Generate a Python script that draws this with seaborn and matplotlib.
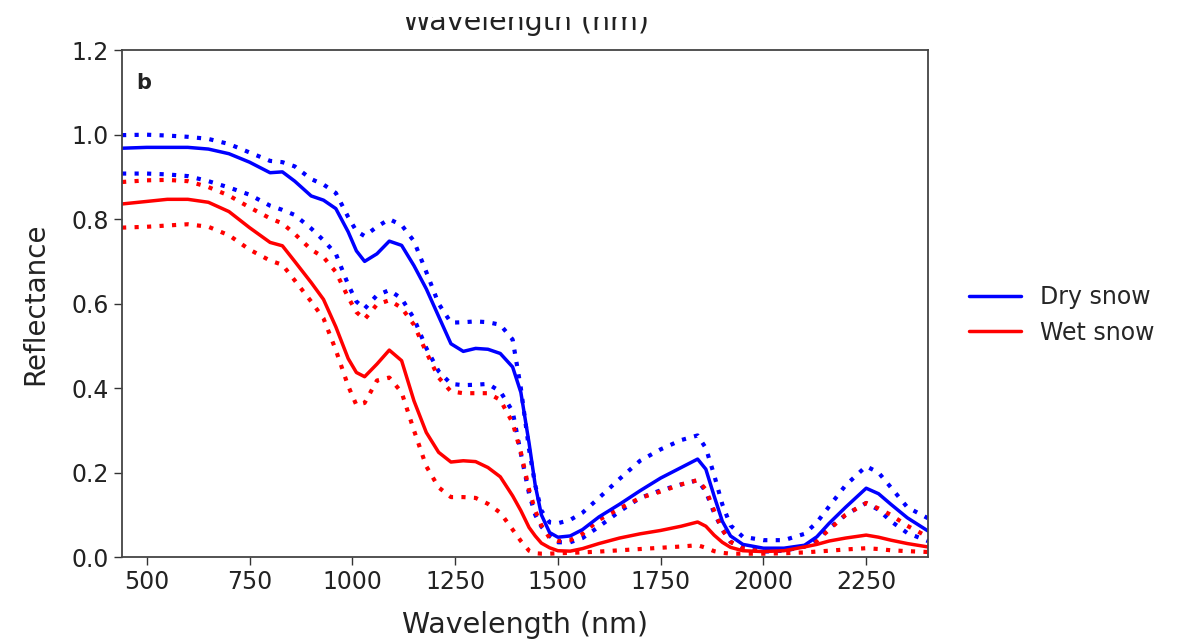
import matplotlib
matplotlib.use('Agg')
import matplotlib.pyplot as plt
import seaborn as sns
import pandas as pd
from matplotlib.patches import Rectangle

# wavelength grid (nm)
wavelength = [440, 500, 550, 600, 650, 700, 750, 800, 830, 860, 900, 930, 960, 990,
              1010, 1030, 1060, 1090, 1120, 1150, 1180, 1210, 1240, 1270, 1300, 1330,
              1360, 1390, 1410, 1430, 1445, 1460, 1480, 1500, 1530, 1560, 1600, 1650,
              1700, 1750, 1800, 1840, 1860, 1880, 1900, 1920, 1950, 2000, 2050, 2100,
              2130, 2160, 2200, 2250, 2280, 2310, 2350, 2400]

dry_mean = [0.968, 0.970, 0.970, 0.970, 0.966, 0.955, 0.935, 0.910, 0.912, 0.890, 0.855,
            0.845, 0.825, 0.770, 0.725, 0.700, 0.718, 0.748, 0.738, 0.690, 0.635, 0.570,
            0.505, 0.487, 0.494, 0.492, 0.482, 0.450, 0.390, 0.270, 0.170, 0.100, 0.058,
            0.047, 0.050, 0.065, 0.095, 0.125, 0.157, 0.187, 0.212, 0.232, 0.208, 0.145,
            0.085, 0.050, 0.030, 0.021, 0.021, 0.028, 0.048, 0.080, 0.118, 0.163, 0.150,
            0.125, 0.093, 0.062]
dry_upper = [0.999, 1.000, 0.998, 0.995, 0.990, 0.978, 0.958, 0.938, 0.935, 0.925, 0.895,
             0.882, 0.862, 0.805, 0.772, 0.760, 0.782, 0.800, 0.786, 0.748, 0.675, 0.600,
             0.555, 0.556, 0.558, 0.556, 0.550, 0.515, 0.400, 0.255, 0.170, 0.110, 0.082,
             0.080, 0.088, 0.105, 0.140, 0.185, 0.228, 0.255, 0.277, 0.288, 0.258, 0.195,
             0.125, 0.075, 0.048, 0.040, 0.040, 0.055, 0.082, 0.120, 0.170, 0.215, 0.200,
             0.165, 0.118, 0.092]
dry_lower = [0.908, 0.908, 0.906, 0.902, 0.890, 0.875, 0.858, 0.832, 0.822, 0.810, 0.778,
             0.750, 0.718, 0.645, 0.605, 0.588, 0.620, 0.632, 0.612, 0.565, 0.495, 0.440,
             0.410, 0.407, 0.408, 0.410, 0.392, 0.345, 0.245, 0.150, 0.100, 0.072, 0.050,
             0.035, 0.035, 0.045, 0.072, 0.108, 0.140, 0.158, 0.172, 0.182, 0.155, 0.105,
             0.065, 0.036, 0.020, 0.013, 0.015, 0.025, 0.042, 0.068, 0.100, 0.128, 0.112,
             0.085, 0.057, 0.038]

wet_mean = [0.836, 0.842, 0.847, 0.847, 0.840, 0.818, 0.780, 0.745, 0.737, 0.700, 0.650,
            0.610, 0.545, 0.470, 0.437, 0.427, 0.457, 0.490, 0.465, 0.370, 0.295, 0.248,
            0.225, 0.228, 0.226, 0.212, 0.190, 0.145, 0.110, 0.070, 0.050, 0.033, 0.022,
            0.015, 0.014, 0.020, 0.032, 0.045, 0.055, 0.063, 0.073, 0.083, 0.073, 0.052,
            0.035, 0.023, 0.015, 0.013, 0.015, 0.024, 0.030, 0.038, 0.045, 0.052, 0.047,
            0.040, 0.032, 0.024]
wet_upper = [0.888, 0.892, 0.893, 0.890, 0.876, 0.856, 0.828, 0.802, 0.790, 0.765, 0.728,
             0.710, 0.675, 0.615, 0.580, 0.563, 0.598, 0.608, 0.590, 0.550, 0.485, 0.425,
             0.392, 0.388, 0.388, 0.388, 0.372, 0.318, 0.248, 0.160, 0.110, 0.075, 0.045,
             0.038, 0.040, 0.055, 0.088, 0.115, 0.140, 0.155, 0.172, 0.182, 0.160, 0.110,
             0.065, 0.036, 0.022, 0.017, 0.018, 0.025, 0.038, 0.065, 0.100, 0.128, 0.115,
             0.100, 0.074, 0.048]
wet_lower = [0.780, 0.782, 0.785, 0.788, 0.782, 0.762, 0.728, 0.702, 0.692, 0.655, 0.605,
             0.565, 0.490, 0.405, 0.360, 0.365, 0.418, 0.425, 0.390, 0.300, 0.215, 0.165,
             0.142, 0.142, 0.140, 0.126, 0.105, 0.065, 0.038, 0.015, 0.009, 0.008, 0.008,
             0.009, 0.010, 0.011, 0.013, 0.016, 0.019, 0.022, 0.025, 0.028, 0.022, 0.014,
             0.010, 0.008, 0.008, 0.008, 0.009, 0.011, 0.013, 0.015, 0.018, 0.021, 0.019,
             0.016, 0.014, 0.012]

x_ticks = [500, 750, 1000, 1250, 1500, 1750, 2000, 2250]
y_ticks = [0.0, 0.2, 0.4, 0.6, 0.8, 1.0, 1.2]

df = pd.DataFrame({'wl': wavelength,
                   'dry': dry_mean, 'dry_hi': dry_upper, 'dry_lo': dry_lower,
                   'wet': wet_mean, 'wet_hi': wet_upper, 'wet_lo': wet_lower})

sns.set_style('ticks')
plt.rcParams['font.family'] = ['DejaVu Sans']

fig = plt.figure(figsize=(11.85, 6.44), dpi=100)
ax = fig.add_axes([0.103, 0.135, 0.68, 0.787])

dot = (0, (1, 2.0))
for col, color in [('dry_hi', 'blue'), ('dry_lo', 'blue'), ('wet_hi', 'red'), ('wet_lo', 'red')]:
    sns.lineplot(data=df, x='wl', y=col, ax=ax, color=color, lw=3.0,
                 linestyle=dot, legend=False)
sns.lineplot(data=df, x='wl', y='dry', ax=ax, color='blue', lw=2.5, label='Dry snow')
sns.lineplot(data=df, x='wl', y='wet', ax=ax, color='red', lw=2.5, label='Wet snow')

ax.set_xlim(440, 2400)
ax.set_ylim(0, 1.2)
ax.set_xticks(x_ticks)
ax.set_yticks(y_ticks)
ax.set_yticklabels([f'{v:.1f}' for v in y_ticks])
ax.tick_params(labelsize=17, length=6, width=1, color='#333333', labelcolor='#222222')
ax.set_xlabel('Wavelength (nm)', fontsize=20.5, color='#222222', labelpad=12)
ax.set_ylabel('Reflectance', fontsize=20, color='#222222', labelpad=16)
for s in ax.spines.values():
    s.set_color('#444444')
    s.set_linewidth(1.3)

ax.text(0.018, 0.935, 'b', transform=ax.transAxes, fontsize=15, fontweight='bold',
        va='center', color='#222222')

ax.legend(loc='center left', bbox_to_anchor=(1.025, 0.478), frameon=False, fontsize=17,
          handlelength=2.2, labelspacing=0.5)

# cut-off label of the panel above
fig.text(0.444, 1 - 30 / 644, 'Wavelength (nm)', fontsize=20.5, color='#222222',
         ha='center', va='baseline')
fig.patches.append(Rectangle((0, 1 - 17 / 644), 1, 17 / 644, transform=fig.transFigure,
                             facecolor='white', edgecolor='none', zorder=10))

fig.savefig('out.png', dpi=100)
